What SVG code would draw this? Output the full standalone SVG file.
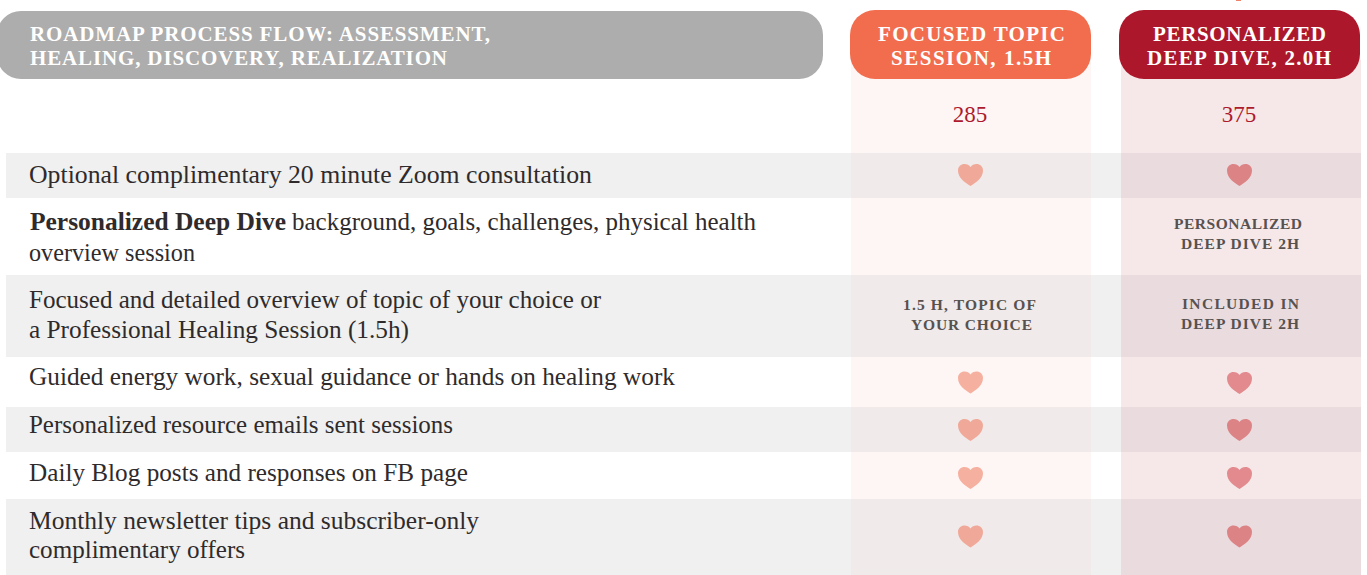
<svg xmlns="http://www.w3.org/2000/svg" xmlns:xlink="http://www.w3.org/1999/xlink" width="1367" height="575" viewBox="0 0 1367 575">
<style>
text{font-family:"Liberation Serif","Times New Roman",serif}
.b{font-size:25.5px;fill:#2f2b2c}
.h{font-size:21px;font-weight:bold;fill:#fff}
.s{font-size:15.5px;font-weight:bold;fill:#57524f}
.p{font-size:23px;fill:#ad1a2d;text-anchor:middle}
.band{fill:#f0f0f0}.co{fill:#fef6f4}.cr{fill:#f6e8e9}.bo{fill:#f0eaea}.br{fill:#eadbdf}
.ho{fill:#f6b0a0}.hoB{fill:#f0a999}.hr{fill:#e28a8e}.hrB{fill:#dc8386}
</style>
<defs>
<path id="heart" d="M0 11C-5 7.500-12.500 3.500-12.500-4.500C-12.500-8.500-9.500-11-6-11C-3.500-11-1.200-9.700 0-8C1.200-9.700 3.500-11 6-11C9.500-11 12.500-8.500 12.500-4.500C12.500 3.500 5 7.500 0 11Z"/>
</defs>
<rect width="1367" height="575" fill="#fff"/>
<g id="columns">
<rect class="co" x="851" y="60" width="240" height="515"/>
<rect class="cr" x="1121" y="60" width="240" height="515"/>
</g>
<g id="bands">
<rect class="band" x="6" y="153" width="1355" height="45"/>
<rect class="band" x="6" y="275" width="1355" height="82"/>
<rect class="band" x="6" y="407" width="1355" height="45"/>
<rect class="band" x="6" y="499" width="1355" height="76"/>
<rect class="bo" x="851" y="153" width="240" height="45"/>
<rect class="bo" x="851" y="275" width="240" height="82"/>
<rect class="bo" x="851" y="407" width="240" height="45"/>
<rect class="bo" x="851" y="499" width="240" height="76"/>
<rect class="br" x="1121" y="153" width="240" height="45"/>
<rect class="br" x="1121" y="275" width="240" height="82"/>
<rect class="br" x="1121" y="407" width="240" height="45"/>
<rect class="br" x="1121" y="499" width="240" height="76"/>
</g>
<rect x="1236" y="0" width="5" height="1" fill="#f0826a"/>
<g id="header-process">
<rect x="-3" y="11" width="826" height="68" rx="24" fill="#adadad"/>
<text class="h" x="30" y="41" textLength="460">ROADMAP PROCESS FLOW: ASSESSMENT,</text>
<text class="h" x="30" y="65" textLength="417">HEALING, DISCOVERY, REALIZATION</text>
</g>
<g id="header-focused">
<rect x="850" y="10" width="241" height="69" rx="25" fill="#f26d4e"/>
<text class="h" x="878" y="41" textLength="187">FOCUSED TOPIC</text>
<text class="h" x="891" y="65" textLength="160">SESSION, 1.5H</text>
<text class="p" x="970" y="122">285</text>
</g>
<g id="header-deep-dive">
<rect x="1119" y="10" width="241" height="69" rx="25" fill="#ad172b"/>
<text class="h" x="1153" y="41" textLength="173">PERSONALIZED</text>
<text class="h" x="1147" y="65" textLength="184">DEEP DIVE, 2.0H</text>
<text class="p" x="1239" y="122">375</text>
</g>
<g id="row-1">
<text class="b" x="29" y="182.500" textLength="563" lengthAdjust="spacingAndGlyphs">Optional complimentary 20 minute Zoom consultation</text>
<use xlink:href="#heart" href="#heart" class="hoB" x="970.500" y="175"/>
<use xlink:href="#heart" href="#heart" class="hrB" x="1239.500" y="175"/>
</g>
<g id="row-2">
<text class="b" x="30" y="230.300" font-weight="bold" textLength="256" lengthAdjust="spacingAndGlyphs">Personalized Deep Dive</text>
<text class="b" x="292" y="230.300" textLength="464" lengthAdjust="spacingAndGlyphs">background, goals, challenges, physical health</text>
<text class="b" x="29" y="260.500" textLength="166" lengthAdjust="spacingAndGlyphs">overview session</text>
<text class="s" x="1174" y="229" textLength="128">PERSONALIZED</text>
<text class="s" x="1181" y="249" textLength="118">DEEP DIVE 2H</text>
</g>
<g id="row-3">
<text class="b" x="29" y="308.300" textLength="572" lengthAdjust="spacingAndGlyphs">Focused and detailed overview of topic of your choice or</text>
<text class="b" x="29" y="337.500" textLength="380" lengthAdjust="spacingAndGlyphs">a Professional Healing Session (1.5h)</text>
<text class="s" x="903" y="310" textLength="133">1.5 H, TOPIC OF</text>
<text class="s" x="911" y="330" textLength="121">YOUR CHOICE</text>
<text class="s" x="1182" y="309" textLength="117">INCLUDED IN</text>
<text class="s" x="1181" y="329" textLength="118">DEEP DIVE 2H</text>
</g>
<g id="row-4">
<text class="b" x="29" y="385.300" textLength="646" lengthAdjust="spacingAndGlyphs">Guided energy work, sexual guidance or hands on healing work</text>
<use xlink:href="#heart" href="#heart" class="ho" x="970.500" y="382.500"/>
<use xlink:href="#heart" href="#heart" class="hr" x="1239.500" y="383"/>
</g>
<g id="row-5">
<text class="b" x="29" y="433.300" textLength="424" lengthAdjust="spacingAndGlyphs">Personalized resource emails sent sessions</text>
<use xlink:href="#heart" href="#heart" class="hoB" x="970.500" y="430"/>
<use xlink:href="#heart" href="#heart" class="hrB" x="1239.500" y="430"/>
</g>
<g id="row-6">
<text class="b" x="29" y="481.300" textLength="439" lengthAdjust="spacingAndGlyphs">Daily Blog posts and responses on FB page</text>
<use xlink:href="#heart" href="#heart" class="ho" x="970.500" y="478"/>
<use xlink:href="#heart" href="#heart" class="hr" x="1239.500" y="478"/>
</g>
<g id="row-7">
<text class="b" x="29" y="529.300" textLength="450" lengthAdjust="spacingAndGlyphs">Monthly newsletter tips and subscriber-only</text>
<text class="b" x="29" y="558" textLength="216" lengthAdjust="spacingAndGlyphs">complimentary offers</text>
<use xlink:href="#heart" href="#heart" class="hoB" x="970.500" y="536.500"/>
<use xlink:href="#heart" href="#heart" class="hrB" x="1239.500" y="536.500"/>
</g>
</svg>
